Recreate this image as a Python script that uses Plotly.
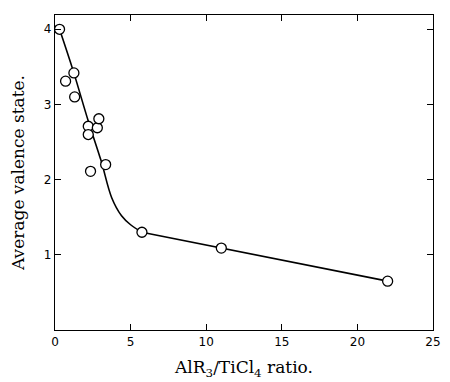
import plotly.graph_objects as go

# Measured points (AlR3/TiCl4 ratio, average valence state)
ratio = [0.3, 0.7, 1.25, 1.3, 2.2, 2.2, 2.8, 2.9, 2.35, 3.35, 5.75, 11.0, 22.0]
valence = [4.0, 3.31, 3.42, 3.10, 2.71, 2.60, 2.69, 2.81, 2.11, 2.20, 1.30, 1.09, 0.65]

# Hand-drawn trend curve
curve_x = [0.3, 1.2, 2.2, 3.05, 3.75, 4.4, 5.0, 5.75, 11.0, 22.0]
curve_y = [4.0, 3.45, 2.78, 2.25, 1.76, 1.52, 1.40, 1.30, 1.09, 0.65]

x_ticks = [0, 5, 10, 15, 20, 25]
y_ticks = [1, 2, 3, 4]

fig = go.Figure()
fig.add_trace(go.Scatter(x=curve_x[:8], y=curve_y[:8], mode="lines",
                         line=dict(color="black", width=1.6, shape="spline", smoothing=1.0),
                         hoverinfo="skip", showlegend=False))
fig.add_trace(go.Scatter(x=curve_x[7:], y=curve_y[7:], mode="lines",
                         line=dict(color="black", width=1.6),
                         hoverinfo="skip", showlegend=False))
fig.add_trace(go.Scatter(x=ratio, y=valence, mode="markers",
                         marker=dict(symbol="circle", size=10, color="white",
                                     line=dict(color="black", width=1.3)),
                         showlegend=False))

axis_common = dict(showgrid=False, zeroline=False, showline=True, linecolor="black",
                   linewidth=1.3, ticks="inside", ticklen=6, tickcolor="black",
                   tickwidth=1.3, mirror="ticks",
                   tickfont=dict(family="DejaVu Sans", size=12, color="black"))

fig.update_layout(
    width=450, height=382,
    margin=dict(l=55, r=9, t=15, b=52),
    paper_bgcolor="white", plot_bgcolor="white",
    xaxis=dict(range=[0, 25], tickvals=x_ticks, ticktext=[str(v) for v in x_ticks],
               title=dict(text="AlR<sub>3</sub>/TiCl<sub>4</sub> ratio.", standoff=13,
                          font=dict(family="DejaVu Serif", size=17, color="black")),
               **axis_common),
    yaxis=dict(range=[0, 4.19], tickvals=y_ticks, ticktext=[str(v) for v in y_ticks],
               title=dict(text="Average valence state.", standoff=14,
                          font=dict(family="DejaVu Serif", size=17, color="black")),
               **axis_common),
)

fig.write_html("out.html")
